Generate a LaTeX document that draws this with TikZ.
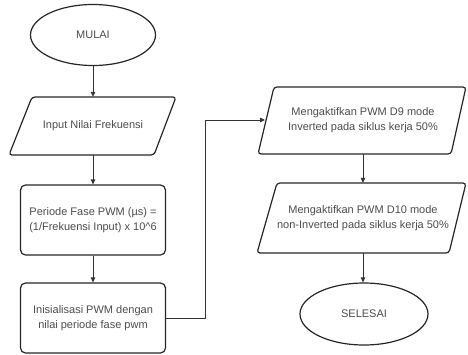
\documentclass[tikz,border=0pt]{standalone}
\usepackage{fontspec}
\setmainfont{Liberation Sans}
\usetikzlibrary{shapes.geometric,arrows.meta}
\begin{document}
\begin{tikzpicture}[x=1pt,y=-1pt,
  shapeline/.style={draw=black!85, line width=1.2pt, rounded corners=3pt},
  txt/.style={align=center, font=\fontsize{11}{15}\selectfont, text=black!70, inner sep=0pt},
  term/.style={txt, ellipse, draw=black!85, line width=1.2pt, minimum width=125pt, minimum height=61pt},
  proc/.style={txt, rectangle, rounded corners=5pt, draw=black!85, line width=1.2pt, minimum width=145pt, minimum height=70pt},
  arr/.style={draw=black!80, line width=0.8pt, -{Triangle[length=5pt,width=4.5pt]}}]
\useasboundingbox (0,0) rectangle (468,354);

\node[term] (mulai) at (93,35) {MULAI};

\draw[shapeline] (32,97) -- (176,97) -- (154,155) -- (9,155) -- cycle;
\node[txt, minimum width=150pt, minimum height=58pt] (input) at (93,126) {Input Nilai Frekuensi};

\node[proc] (periode) at (93,220) {Periode Fase PWM (µs) =\\(1/Frekuensi Input) x 10\^{}6};

\node[proc] (init) at (93,318) {Inisialisasi PWM dengan\\nilai periode fase pwm};

\draw[shapeline] (274,87) -- (466,87) -- (451,154) -- (258,154) -- cycle;
\node[txt, minimum width=180pt, minimum height=67pt] (d9) at (363,120.5) {Mengaktifkan PWM D9 mode\\Inverted pada siklus kerja 50\%};

\draw[shapeline] (277,183) -- (466,183) -- (449,253) -- (257,253) -- cycle;
\node[txt, minimum width=180pt, minimum height=70pt] (d10) at (363,218) {Mengaktifkan PWM D10 mode\\non-Inverted pada siklus kerja 50\%};

\node[term, minimum width=128pt, minimum height=62pt] (selesai) at (364,314) {SELESAI};

\coordinate (bend) at (205,318);
\coordinate (d9in) at (265,120);

\draw[arr] (mulai.south) -- (input.north);
\draw[arr] (input.south) -- (periode.north);
\draw[arr] (periode.south) -- (init.north);
\draw[arr] (init.east) -- (bend) |- (d9in);
\draw[arr] (d9.south) -- (d10.north);
\draw[arr] (d10.south) -- (d10.south |- selesai.north);
\end{tikzpicture}
\end{document}
